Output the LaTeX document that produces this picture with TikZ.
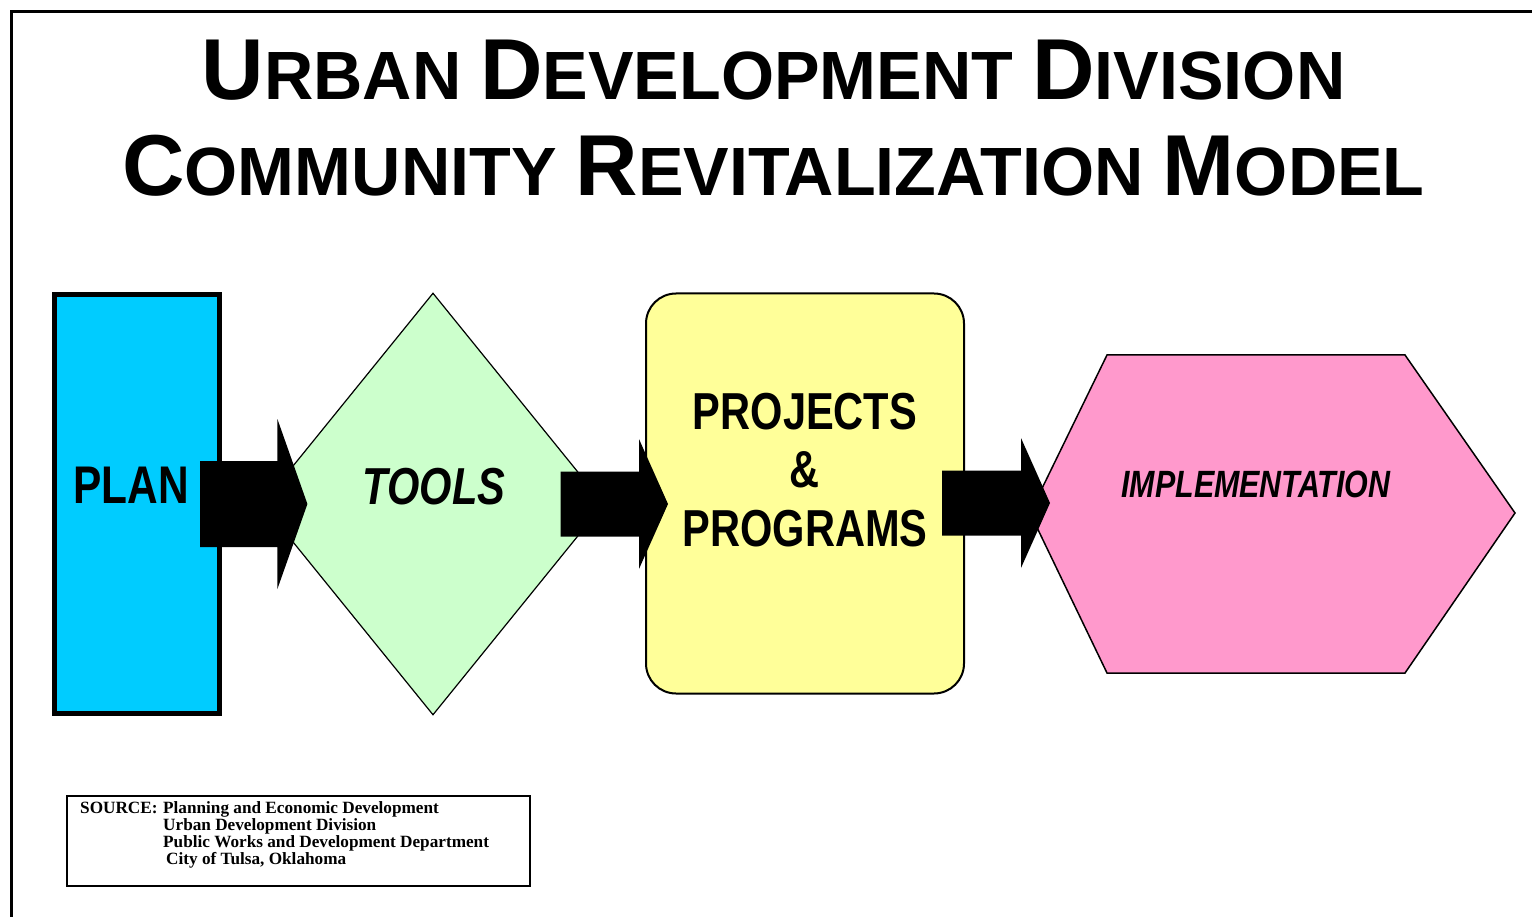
\documentclass[tikz,border=0pt]{standalone}
\usepackage{fontspec}
\setmainfont{Liberation Serif}
\newfontfamily\arialf{Liberation Sans}
\newfontfamily\condsans[FakeStretch=0.8]{Liberation Sans}
\usetikzlibrary{shapes.geometric,calc}
\definecolor{plancyan}{RGB}{0,204,255}
\definecolor{toolgreen}{RGB}{204,255,204}
\definecolor{projyellow}{RGB}{255,255,153}
\definecolor{implpink}{RGB}{255,153,204}
\newcommand{\ttlL}[1]{{\fontsize{86.5}{90}\selectfont #1}}
\newcommand{\ttlS}[1]{{\fontsize{68.3}{90}\selectfont #1}}
% block arrow: #1 tail point, #2 tip point, #3 y (px), #4 shaft half, #5 head half, #6 head length
\newcommand{\blockarr}[6]{%
  \fill[arrowfill] let \p1=(#1), \p2=(#2), \p3=(0,#3) in
    (\x1,\y3+#4pt) -- (\x2-#6pt,\y3+#4pt) -- (\x2-#6pt,\y3+#5pt) -- (\x2,\y3)
    -- (\x2-#6pt,\y3-#5pt) -- (\x2-#6pt,\y3-#4pt) -- (\x1,\y3-#4pt) -- cycle;}
\tikzset{
  arrowfill/.style={fill=black},
  titletext/.style={font=\arialf\bfseries\fontsize{68.3}{90}\selectfont, inner sep=0pt, anchor=base},
  labeltext/.style={font=\condsans\bfseries, inner sep=0pt, align=center},
  planbox/.style={draw=black, line width=5pt, fill=plancyan, minimum width=165pt, minimum height=419pt, inner sep=0pt},
  toolbox/.style={diamond, draw=black, line width=1.2pt, fill=toolgreen, minimum width=342pt, minimum height=422pt, inner sep=0pt},
  projbox/.style={draw=black, line width=2pt, fill=projyellow, rounded corners=30pt, minimum width=318pt, minimum height=400pt, inner sep=0pt},
  implbox/.style={draw=black, line width=1.5pt, fill=implpink, line join=miter},
  srcbox/.style={draw=black, line width=1.8pt, minimum width=463pt, minimum height=90pt, inner sep=0pt},
  frameline/.style={draw=black, line width=3pt}
}
\begin{document}
\begin{tikzpicture}[x=1pt,y=-1pt]
\useasboundingbox (0,0) rectangle (1532,917);
\fill[white] (0,0) rectangle (1532,917);
\draw[frameline] (11.5,917) -- (11.5,11.5) -- (1532,11.5);

% title
\node[titletext] (title1) at (773.5,100) {\ttlL{U}\ttlS{RBAN} \ttlL{D}\ttlS{EVELOPMENT} \ttlL{D}\ttlS{IVISION}};
\node[titletext] (title2) at (773.5,196) {\ttlL{C}\ttlS{OMMUNITY} \ttlL{R}\ttlS{EVITALIZATION} \ttlL{M}\ttlS{ODEL}};

% shapes
\node[planbox] (plan) at (137,504) {};
\node[toolbox] (tools) at (433,504) {};
\node[projbox] (proj) at (805,493.5) {};
\filldraw[implbox] (1107,355) -- (1405,355) -- (1515,513) -- (1405,673) -- (1107,673) -- (1030,513) -- cycle;
\coordinate (implw) at (1030,513);

% labels
\node[labeltext, anchor=base, font=\condsans\bfseries\fontsize{53}{60}\selectfont] (planlbl) at (131,503) {PLAN};
\node[labeltext, anchor=base, font=\condsans\bfseries\itshape\fontsize{52}{60}\selectfont] (toolslbl) at (434,504) {TOOLS};
\node[labeltext, anchor=center, font=\condsans\bfseries\fontsize{52}{58.5}\selectfont] (projlbl) at (805,470) {PROJECTS\\\&\\PROGRAMS};
\node[labeltext, anchor=base, font=\condsans\bfseries\itshape\fontsize{38}{44}\selectfont] (impl) at (1256,497) {IMPLEMENTATION};

% connectors (block arrows)
\coordinate (a1s) at ($(plan.east)+(-22,0)$);
\coordinate (a1e) at ($(tools.west)+(46,0)$);
\blockarr{a1s}{a1e}{504}{43}{85}{30}
\coordinate (a2s) at ($(tools.east)+(-44,0)$);
\coordinate (a2e) at ($(proj.west)+(23,0)$);
\blockarr{a2s}{a2e}{504}{32.5}{65}{29}
\coordinate (a3s) at ($(proj.east)+(-23,0)$);
\coordinate (a3e) at ($(implw)+(20,0)$);
\blockarr{a3s}{a3e}{503}{32.5}{65}{29}

% source box
\node[srcbox, anchor=north west] (src) at (66,795) {};
\node[anchor=north west, inner sep=0pt, font=\bfseries\fontsize{17.2}{17}\selectfont] (srctext) at (80,801)
  {\begin{tabular}{@{}p{83pt}@{}l@{}}
   SOURCE: & Planning and Economic Development\\
           & Urban Development Division\\
           & Public Works and Development Department\\
           & \hspace{3pt}City of Tulsa, Oklahoma
   \end{tabular}};
\end{tikzpicture}
\end{document}
